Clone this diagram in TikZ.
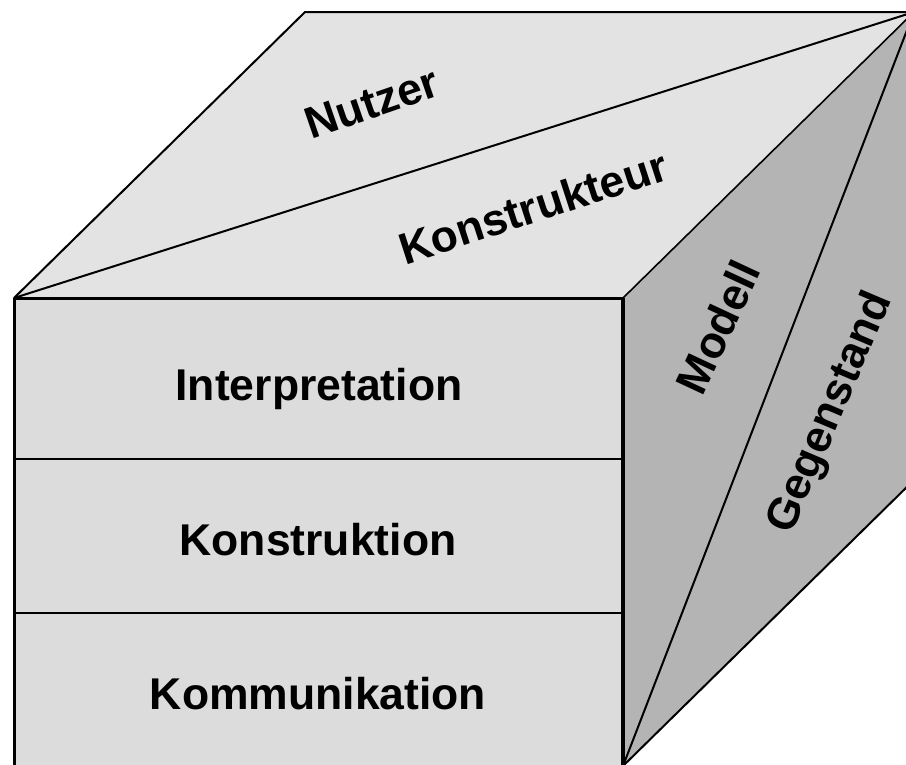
\documentclass[tikz,border=0pt]{standalone}
\usepackage{fontspec}
\setmainfont{Liberation Sans}
\usepackage{tikz}
\usetikzlibrary{calc}
\definecolor{vorne}{gray}{0.863}
\definecolor{oben}{gray}{0.89}
\definecolor{seite}{gray}{0.706}

\begin{document}
\begin{tikzpicture}[x=1pt,y=-1pt,line join=round,
  schrift/.style={font=\bfseries\fontsize{44.5}{44.5}\selectfont}]
\useasboundingbox (0,0) rectangle (906,764);
\clip (0,0) rectangle (906,764);
% Ecken des Wuerfels
\coordinate (A) at (14,298);
\coordinate (B) at (623,298);
\coordinate (C) at (623,766);
\coordinate (D) at (14,766);
\coordinate (E) at (305,12);
\coordinate (F) at (914,12);
\coordinate (G) at (914,480);
% Flaechen
\fill[oben] (A) -- (E) -- (F) -- (B) -- cycle;
\fill[seite] (B) -- (F) -- (G) -- (C) -- cycle;
\fill[vorne] (A) rectangle (C);
\draw[line width=2pt] (A) -- (E) -- (F) -- (G) -- (C);
\draw[line width=1.6pt] (B) -- (F);
\draw[line width=2pt] (A) -- (F);
\draw[line width=2pt] (C) -- (F);
\draw[line width=2.5pt] (14,459) -- (623,459);
\draw[line width=2.5pt] (14,613) -- (623,613);
\draw[line width=3pt] (D) -- (A) -- (B);
\draw[line width=4pt] (B) -- (C);
% Beschriftung
\node[schrift,anchor=base] (interpretation) at (319,400) {Interpretation};
\node[schrift,anchor=base] (konstruktion) at (318,555) {Konstruktion};
\node[schrift,anchor=base] (kommunikation) at (318,709) {Kommunikation};
\node[schrift,rotate=19] (nutzer) at (372,103) {Nutzer};
\node[schrift,rotate=18] (konstrukteur) at (533,207) {Konstrukteur};
\node[schrift,rotate=65] (modell) at (718,327) {Modell};
\node[schrift,rotate=67] (gegenstand) at (831,413) {Gegenstand};
\end{tikzpicture}
\end{document}
